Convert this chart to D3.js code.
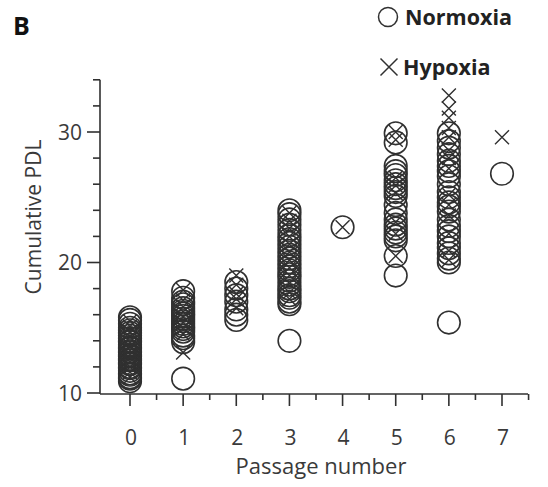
<!DOCTYPE html>
<html>
<head>
<meta charset="utf-8">
<script src="https://cdn.jsdelivr.net/npm/d3@7"></script>
<style>
  html, body { margin: 0; padding: 0; background: #fff; }
  svg { display: block; }
  text { font-family: "Open Sans", "Noto Sans", sans-serif; fill: #3a3a3a; }
</style>
</head>
<body>
<svg id="chart" width="548" height="487"></svg>
<script>
// ---- data ----
const passages = [0, 1, 2, 3, 4, 5, 6, 7];
const xTickLabels = ["0", "1", "2", "3", "4", "5", "6", "7"];
const yTickLabels = [10, 20, 30];

const normoxiaP0 = [10.9, 11.1, 11.2, 11.4, 11.5, 11.7, 11.9, 12.0, 12.2, 12.3, 12.5, 12.6, 12.8, 12.9, 13.1, 13.2, 13.4, 13.5, 13.7, 13.9, 14.0, 14.2, 14.4, 14.6, 14.8, 15.0, 15.3, 15.6, 15.8];
const normoxiaP1 = [11.1, 13.9, 14.2, 14.4, 14.7, 14.9, 15.1, 15.3, 15.5, 15.7, 15.9, 16.1, 16.3, 16.5, 16.8, 17.0, 17.3, 17.8];
const normoxiaP2 = [15.6, 16.0, 16.4, 17.0, 17.5, 18.0, 18.5];
const normoxiaP3 = [14.0, 16.8, 17.0, 17.3, 17.5, 17.8, 18.0, 18.3, 18.6, 18.9, 19.1, 19.4, 19.7, 20.0, 20.3, 20.6, 20.9, 21.2, 21.5, 21.8, 22.1, 22.5, 22.9, 23.3, 23.7, 24.0];
const normoxiaP4 = [22.7];
const normoxiaP5 = [19.0, 20.5, 21.7, 22.0, 22.3, 22.6, 22.9, 23.3, 23.8, 24.4, 25.1, 25.4, 25.7, 26.0, 26.3, 26.7, 27.0, 27.4, 29.2, 29.9];
const normoxiaP6 = [15.4, 20.0, 20.3, 20.7, 21.1, 21.5, 22.0, 22.4, 22.8, 23.3, 23.9, 24.3, 24.6, 25.0, 25.4, 26.0, 26.6, 27.0, 27.4, 27.8, 28.3, 28.8, 29.3, 29.9];
const normoxiaP7 = [26.8];

const hypoxiaP0 = [11.2, 11.6, 12.0, 12.4, 12.7, 13.0, 13.3, 13.6, 13.9, 14.3, 14.7, 15.1, 15.5];
const hypoxiaP1 = [13.1, 14.5, 15.0, 15.4, 15.8, 16.2, 16.6, 17.1, 17.9];
const hypoxiaP2 = [16.5, 17.2, 17.6, 18.3, 19.0];
const hypoxiaP3 = [17.2, 17.7, 18.4, 19.0, 19.6, 20.2, 20.8, 21.4, 22.0, 22.6, 23.2, 23.8];
const hypoxiaP4 = [22.7];
const hypoxiaP5 = [20.5, 22.2, 23.1, 25.3, 25.9, 26.5, 29.4, 30.0];
const hypoxiaP6 = [20.2, 20.9, 22.2, 23.6, 24.4, 25.2, 27.2, 28.0, 28.6, 29.6, 30.3, 31.1, 31.8, 32.8];
const hypoxiaP7 = [29.6];

const normoxia = [normoxiaP0, normoxiaP1, normoxiaP2, normoxiaP3, normoxiaP4, normoxiaP5, normoxiaP6, normoxiaP7];
const hypoxia  = [hypoxiaP0, hypoxiaP1, hypoxiaP2, hypoxiaP3, hypoxiaP4, hypoxiaP5, hypoxiaP6, hypoxiaP7];

const panelLabel = "B";
const seriesNames = ["Normoxia", "Hypoxia"];
const xTitle = "Passage number";
const yTitle = "Cumulative PDL";

// ---- layout ----
const svg = d3.select("#chart");
const ink = "#303030";
const axisX0 = 100, axisX1 = 528, axisY = 394;

const x = d3.scaleLinear().domain([0, 7]).range([130, 502]);
const y = d3.scaleLinear().domain([10, 34]).range([393, 79.8]);

const toPoints = arr => arr.flatMap((vals, i) => vals.map(v => ({p: passages[i], v})));
const normPts = toPoints(normoxia);
const hypPts = toPoints(hypoxia);

// axes lines
svg.append("line").attr("x1", axisX0).attr("x2", axisX0).attr("y1", y(34)).attr("y2", axisY)
  .attr("stroke", ink).attr("stroke-width", 1.6);
svg.append("line").attr("x1", axisX0).attr("x2", axisX1).attr("y1", axisY).attr("y2", axisY)
  .attr("stroke", ink).attr("stroke-width", 1.6);

// y ticks
const yMinor = d3.range(12, 35, 2).filter(v => v % 10 !== 0);
svg.selectAll(".ymaj").data(yTickLabels).enter().append("line")
  .attr("x1", 87).attr("x2", axisX0).attr("y1", d => y(d)).attr("y2", d => y(d))
  .attr("stroke", ink).attr("stroke-width", 1.6);
svg.selectAll(".ymin").data(yMinor).enter().append("line")
  .attr("x1", 93).attr("x2", axisX0).attr("y1", d => y(d)).attr("y2", d => y(d))
  .attr("stroke", ink).attr("stroke-width", 1.6);
svg.selectAll(".ylab").data(yTickLabels).enter().append("text")
  .attr("x", 82).attr("y", d => y(d)).attr("dy", "0.36em")
  .attr("text-anchor", "end").attr("font-size", 21).text(d => d);

// x ticks
const xMinor = d3.range(0.5, 7.6, 1);
svg.selectAll(".xmaj").data(passages).enter().append("line")
  .attr("x1", d => x(d)).attr("x2", d => x(d)).attr("y1", axisY).attr("y2", axisY + 12)
  .attr("stroke", ink).attr("stroke-width", 1.6);
svg.selectAll(".xmin").data(xMinor).enter().append("line")
  .attr("x1", d => x(d)).attr("x2", d => x(d)).attr("y1", axisY).attr("y2", axisY + 6)
  .attr("stroke", ink).attr("stroke-width", 1.6);
svg.selectAll(".xlab").data(passages).enter().append("text")
  .attr("x", d => x(d) + 1).attr("y", 437).attr("dy", "0.36em")
  .attr("text-anchor", "middle").attr("font-size", 21).text((d, i) => xTickLabels[i]);

// titles
svg.append("text").attr("x", 321).attr("y", 466).attr("dy", "0.36em")
  .attr("text-anchor", "middle").attr("font-size", 22).text(xTitle);
svg.append("text").attr("transform", "translate(41,217) rotate(-90)")
  .attr("text-anchor", "middle").attr("font-size", 21).text(yTitle);
svg.append("text").attr("x", 13).attr("y", 35).attr("font-size", 25)
  .attr("font-weight", "bold").style("fill", "#111").text(panelLabel);

// markers
const R = 11.3, C = 7;
svg.append("g").selectAll("circle").data(normPts).enter().append("circle")
  .attr("cx", d => x(d.p)).attr("cy", d => y(d.v)).attr("r", R)
  .attr("fill", "none").attr("stroke", ink).attr("stroke-width", 1.6);
const crossPath = (cx, cy, s) => `M${cx - s},${cy - s}L${cx + s},${cy + s}M${cx - s},${cy + s}L${cx + s},${cy - s}`;
svg.append("g").selectAll("path").data(hypPts).enter().append("path")
  .attr("d", d => crossPath(x(d.p), y(d.v), C))
  .attr("fill", "none").attr("stroke", ink).attr("stroke-width", 1.4);

// legend
svg.append("circle").attr("cx", 388).attr("cy", 17).attr("r", 9.5)
  .attr("fill", "none").attr("stroke", ink).attr("stroke-width", 1.5);
svg.append("text").attr("x", 405).attr("y", 17).attr("dy", "0.36em")
  .attr("font-size", 21.5).attr("font-weight", "bold").style("fill", "#222").text(seriesNames[0]);
svg.append("path").attr("d", crossPath(389, 67, 8.5))
  .attr("fill", "none").attr("stroke", ink).attr("stroke-width", 1.5);
svg.append("text").attr("x", 403).attr("y", 67).attr("dy", "0.36em")
  .attr("font-size", 21.5).attr("font-weight", "bold").style("fill", "#222").text(seriesNames[1]);
</script>
</body>
</html>
